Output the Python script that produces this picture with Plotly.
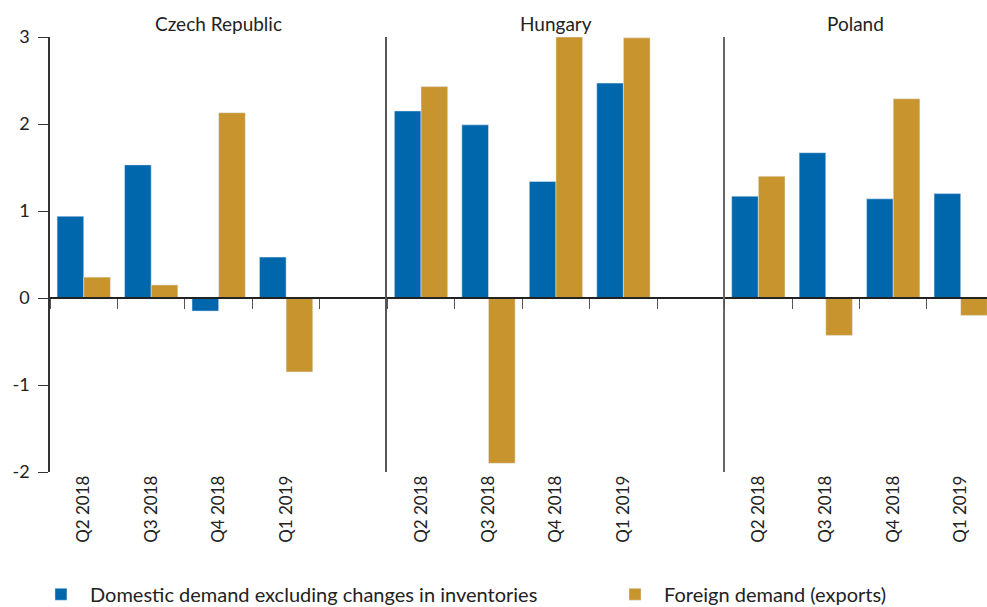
from plotly.subplots import make_subplots
import plotly.graph_objects as go

countries = ['Czech Republic', 'Hungary', 'Poland']
quarters = ['Q2 2018', 'Q3 2018', 'Q4 2018', 'Q1 2019', 'Q2 2019']
quarter_labels = ['Q2 2018', 'Q3 2018', 'Q4 2018', 'Q1 2019', '']
y_ticks = [-2, -1, 0, 1, 2, 3]
y_labels = ['-2', '-1', '0', '1', '2', '3']

# last quarter has no data yet
domestic = {
    'Czech Republic': [0.94, 1.53, -0.15, 0.47, None],
    'Hungary': [2.15, 1.99, 1.34, 2.47, None],
    'Poland': [1.17, 1.67, 1.14, 1.20, None],
}
foreign = {
    'Czech Republic': [0.24, 0.15, 2.13, -0.85, None],
    'Hungary': [2.43, -1.90, 3.0, 2.99, None],
    'Poland': [1.40, -0.43, 2.29, -0.20, None],
}

blue = '#0067ac'
gold = '#c8942e'
font = 'Lato'

fig = make_subplots(rows=1, cols=3,
                    shared_yaxes=True,
                    horizontal_spacing=0,
                    column_widths=[337.3, 337.3, 262.4],
                    subplot_titles=countries)

for i, c in enumerate(countries):
    fig.add_trace(go.Bar(x=quarters, y=domestic[c],
                         name='Domestic demand excluding changes in inventories',
                         marker_color=blue, legend='legend',
                         showlegend=(i == 0)), row=1, col=i + 1)
    fig.add_trace(go.Bar(x=quarters, y=foreign[c],
                         name='Foreign demand (exports)',
                         marker_color=gold, legend='legend2',
                         showlegend=(i == 0)), row=1, col=i + 1)

leg = dict(orientation='h', xref='container', yref='container',
           xanchor='left', y=0.021, yanchor='middle', itemwidth=48,
           font=dict(size=20, family=font, color='#222222'),
           bgcolor='rgba(0,0,0,0)')

fig.update_layout(width=987, height=607,
                  margin=dict(l=50, r=0, t=37, b=135),
                  plot_bgcolor='white', paper_bgcolor='white',
                  barmode='group', bargap=0.21, bargroupgap=0,
                  font=dict(family=font, color='#222222'),
                  legend=dict(leg, x=0.0324),
                  legend2=dict(leg, x=0.614),
                  )

for a in fig.layout.annotations:
    a.font = dict(size=19, family=font, color='#222222')

for i in range(3):
    rng = [-0.5, 4.5] if i < 2 else [-0.5, 3.39]
    fig.update_xaxes(row=1, col=i + 1,
                     type='category', categoryorder='array', categoryarray=quarters,
                     tickmode='array', tickvals=quarters, ticktext=quarter_labels,
                     range=rng, fixedrange=True, automargin=False,
                     anchor='free', position=0.4,
                     showline=True, linecolor='#222222', linewidth=1.5,
                     ticks='outside', tickson='boundaries', ticklen=10,
                     tickcolor='#555555', tickwidth=1,
                     tickangle=-90, ticklabelstandoff=170,
                     tickfont=dict(size=17, family=font, color='#222222'),
                     showgrid=False, zeroline=False)

fig.update_yaxes(range=[-2, 3], tickmode='array', tickvals=y_ticks, ticktext=y_labels,
                 showgrid=False, zeroline=False, automargin=False,
                 showline=True, linewidth=1.5, fixedrange=True)
fig.update_yaxes(row=1, col=1, linecolor='#333333', ticks='outside', ticklen=10,
                 tickcolor='#333333', ticklabelstandoff=5,
                 tickfont=dict(size=18, family=font, color='#222222'))
fig.update_yaxes(row=1, col=2, linecolor='#555555', ticks='')
fig.update_yaxes(row=1, col=3, linecolor='#666666', ticks='')

# page has default 8px body margin, remove it so the figure fills the window
fig.write_html("out.html", config={'displayModeBar': False},
               post_script="document.body.style.margin = '0';")
